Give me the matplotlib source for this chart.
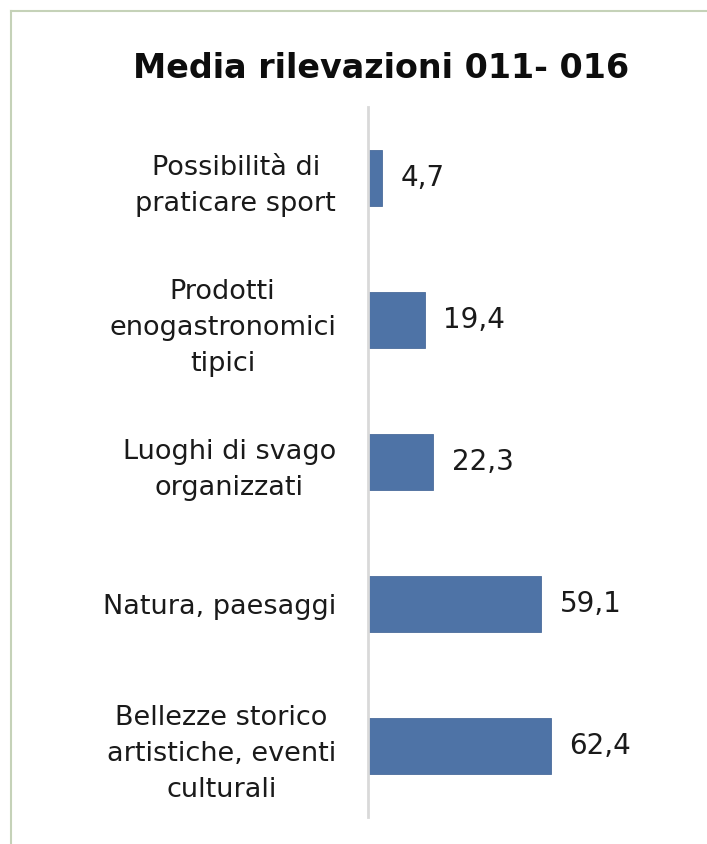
import matplotlib
matplotlib.use("Agg")
import matplotlib.pyplot as plt
from matplotlib.lines import Line2D

categories = ["Possibilità di\npraticare sport",
              "Prodotti\nenogastronomici\ntipici",
              "Luoghi di svago\norganizzati",
              "Natura, paesaggi",
              "Bellezze storico\nartistiche, eventi\nculturali"]
values = [4.7, 19.4, 22.3, 59.1, 62.4]
value_labels = ["4,7", "19,4", "22,3", "59,1", "62,4"]
title = "Media rilevazioni 011- 016"

W, H = 707, 844
fig = plt.figure(figsize=(W/100, H/100), dpi=100)
plt.rcParams['font.family'] = ['DejaVu Sans']

# border lines (top and left)
fig.add_artist(Line2D([11/W, 1], [1-11/H, 1-11/H], color='#c5d2b8', lw=1.5, transform=fig.transFigure))
fig.add_artist(Line2D([11/W, 11/W], [0, 1-11/H], color='#c5d2b8', lw=1.5, transform=fig.transFigure))

left, right = 368, 368 + 70*2.93
top, bottom = 107, 817
ax = fig.add_axes([left/W, 1-bottom/H, (right-left)/W, (bottom-top)/H])
y = list(range(len(categories)))
ax.barh(y, values, height=0.4, color='#4e73a6', edgecolor='#4a6c9c', lw=0.6)
ax.set_xlim(0, 70)
ax.set_ylim(len(categories)-0.5, -0.5)
for s in ['top', 'right', 'bottom']:
    ax.spines[s].set_visible(False)
ax.spines['left'].set_color('#d9d9d9')
ax.spines['left'].set_linewidth(2)
ax.set_xticks([])
ax.set_yticks(y)
ax.set_yticklabels(categories, fontsize=19.5, color='#1a1a1a', linespacing=1.5)
for t in ax.get_yticklabels():
    t.set_multialignment('center')
ax.tick_params(axis='y', length=0, pad=23)
for yi, v, lab in zip(y, values, value_labels):
    ax.text(v + 6.3, yi, lab, va='center', ha='left', fontsize=20, color='#1a1a1a')

fig.text(381/W, 1-68/H, title, ha='center', va='center', fontsize=24, fontweight='bold', color='#0d0d0d')
fig.savefig("out.png", dpi=100, facecolor='white')
